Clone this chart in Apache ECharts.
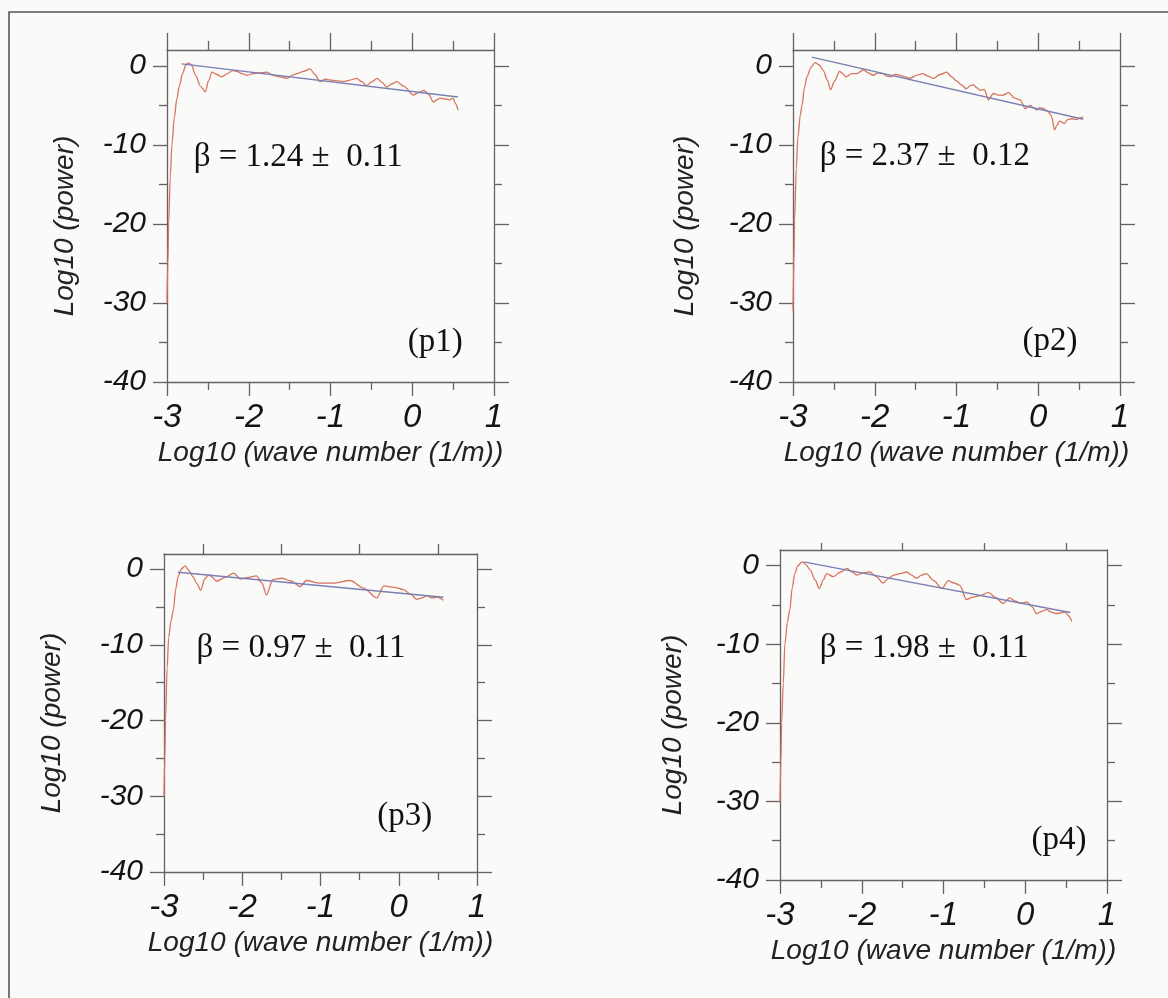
<!DOCTYPE html>
<html>
<head>
<meta charset="utf-8">
<script src="https://cdn.jsdelivr.net/npm/echarts@6/dist/echarts.min.js"></script>
<style>
  html, body { margin: 0; padding: 0; background: #fafaf8; }
  #chart { width: 1168px; height: 998px; }
</style>
</head>
<body>
<div id="chart"></div>
<script>
// Power spectra (log10 power vs log10 wave number) for four profiles, with power-law fits.
const panelIds = ['p1', 'p2', 'p3', 'p4'];

const p1Spectrum = [
  [-3.00,-30],[-2.99,-25],[-2.98,-20],[-2.96,-14],[-2.94,-10],[-2.91,-6.5],[-2.88,-4.2],[-2.85,-2.6],
  [-2.81,-1.0],[-2.77,0.1],[-2.74,0.35],[-2.70,0.1],[-2.65,-1.2],[-2.59,-2.6],[-2.53,-3.3],[-2.49,-1.8],
  [-2.45,-0.8],[-2.39,-1.1],[-2.33,-1.4],[-2.26,-1.0],[-2.20,-0.6],[-2.15,-0.7],[-2.08,-1.0],[-2.02,-1.2],
  [-1.95,-1.0],[-1.88,-0.9],[-1.78,-0.8],[-1.70,-1.2],[-1.62,-1.4],[-1.53,-1.6],[-1.47,-1.2],[-1.41,-1.0],
  [-1.33,-0.7],[-1.25,-0.4],[-1.19,-1.1],[-1.13,-2.0],[-1.06,-1.7],[-1.00,-1.8],[-0.92,-1.9],[-0.84,-2.0],
  [-0.76,-1.8],[-0.68,-1.6],[-0.62,-2.0],[-0.56,-2.5],[-0.49,-2.0],[-0.43,-1.6],[-0.37,-2.1],[-0.31,-2.7],
  [-0.25,-2.3],[-0.19,-2.0],[-0.10,-2.6],[0.01,-3.7],[0.08,-3.4],[0.14,-3.1],[0.20,-3.6],[0.26,-4.6],
  [0.30,-4.3],[0.34,-4.1],[0.40,-4.2],[0.46,-4.3],[0.50,-4.1],[0.53,-4.8],[0.56,-5.6]
];

const p2Spectrum = [
  [-3.00,-31],[-2.99,-25],[-2.98,-19.5],[-2.96,-13],[-2.94,-9],[-2.91,-6.2],[-2.89,-5.0],[-2.86,-2.8],
  [-2.83,-1.4],[-2.78,-0.2],[-2.73,0.4],[-2.68,0.1],[-2.63,-0.6],[-2.58,-1.8],[-2.54,-3.0],[-2.49,-1.9],
  [-2.43,-0.7],[-2.39,-1.0],[-2.35,-1.4],[-2.28,-1.0],[-2.22,-1.0],[-2.14,-0.5],[-2.08,-0.9],[-2.02,-1.2],
  [-1.96,-0.9],[-1.90,-1.0],[-1.85,-1.3],[-1.81,-1.4],[-1.75,-1.1],[-1.69,-1.2],[-1.63,-1.4],[-1.57,-1.6],
  [-1.49,-1.2],[-1.41,-1.0],[-1.35,-1.3],[-1.28,-1.6],[-1.20,-1.1],[-1.12,-0.8],[-1.06,-1.4],[-1.00,-1.9],
  [-0.94,-2.4],[-0.88,-2.9],[-0.83,-2.5],[-0.79,-2.4],[-0.75,-2.8],[-0.71,-3.1],[-0.66,-3.0],[-0.61,-4.3],
  [-0.55,-3.5],[-0.49,-3.7],[-0.43,-3.7],[-0.36,-3.4],[-0.29,-4.1],[-0.22,-4.3],[-0.16,-5.4],[-0.10,-5.0],
  [-0.06,-5.3],[-0.02,-5.6],[0.02,-5.3],[0.06,-5.4],[0.12,-5.8],[0.16,-6.3],[0.20,-8.1],[0.23,-7.5],
  [0.26,-7.0],[0.32,-7.3],[0.36,-6.8],[0.41,-6.7],[0.47,-6.8],[0.51,-6.6],[0.55,-6.5]
];

const p3Spectrum = [
  [-3.00,-30],[-2.99,-25],[-2.98,-20],[-2.96,-13],[-2.94,-9],[-2.91,-6.8],[-2.88,-5.4],[-2.85,-2.6],
  [-2.82,-1.0],[-2.78,0.0],[-2.73,0.44],[-2.68,-0.2],[-2.63,-1.0],[-2.58,-1.9],[-2.53,-2.8],[-2.48,-1.3],
  [-2.43,-0.75],[-2.38,-1.1],[-2.33,-1.6],[-2.22,-1.1],[-2.11,-0.53],[-2.02,-1.3],[-1.92,-1.1],[-1.82,-0.89],
  [-1.75,-1.8],[-1.69,-3.4],[-1.61,-1.4],[-1.49,-1.2],[-1.37,-1.6],[-1.26,-2.3],[-1.18,-1.5],[-1.01,-1.85],
  [-0.84,-1.85],[-0.62,-1.5],[-0.45,-2.5],[-0.28,-3.8],[-0.19,-2.2],[-0.06,-2.4],[0.06,-2.7],[0.15,-3.3],
  [0.23,-4.0],[0.30,-3.8],[0.36,-3.5],[0.42,-3.8],[0.49,-3.7],[0.57,-4.1]
];

const p4Spectrum = [
  [-3.00,-30],[-2.99,-25],[-2.98,-20],[-2.96,-15],[-2.94,-10],[-2.91,-7.2],[-2.88,-5.6],[-2.85,-2.8],
  [-2.82,-1.0],[-2.78,0.0],[-2.73,0.5],[-2.68,0.1],[-2.63,-0.55],[-2.57,-1.8],[-2.52,-2.9],[-2.47,-1.8],
  [-2.43,-1.0],[-2.35,-1.4],[-2.26,-0.8],[-2.18,-0.33],[-2.12,-0.8],[-2.06,-1.2],[-1.98,-0.9],[-1.90,-0.8],
  [-1.82,-1.4],[-1.74,-2.2],[-1.67,-1.6],[-1.61,-1.2],[-1.53,-1.0],[-1.45,-0.8],[-1.39,-1.2],[-1.33,-1.6],
  [-1.27,-1.2],[-1.21,-1.0],[-1.12,-1.9],[-1.02,-2.9],[-0.94,-1.9],[-0.87,-2.2],[-0.80,-2.5],[-0.72,-4.3],
  [-0.64,-4.0],[-0.55,-3.8],[-0.45,-3.4],[-0.37,-4.0],[-0.27,-4.8],[-0.19,-4.1],[-0.12,-4.5],[-0.06,-4.8],
  [0.02,-4.6],[0.08,-5.2],[0.14,-6.1],[0.20,-5.8],[0.26,-5.6],[0.32,-5.9],[0.38,-6.1],[0.44,-6.0],
  [0.49,-5.9],[0.53,-6.4],[0.57,-7.1]
];

const spectra = [p1Spectrum, p2Spectrum, p3Spectrum, p4Spectrum];

// Power-law fit: log10(power) = intercept - beta * log10(k)
const fitBeta = [1.24, 2.37, 0.97, 1.98];
const fitError = [0.11, 0.12, 0.11, 0.11];
const fitIntercept = [-3.25, -5.46, -3.15, -4.87];
const fitRange = [[-2.82, 0.56], [-2.77, 0.55], [-2.82, 0.57], [-2.71, 0.55]];

// Axis ticks
const xTickValues = [-3, -2, -1, 0, 1];
const xHalfTicks = [-2.5, -1.5, -0.5, 0.5];
const yMajorTicks = [-40, -30, -20, -10, 0];
const yMinorTicks = [-35, -25, -15, -5];

// Text anchors in data units (left edge, vertical middle)
const betaLabelAt = [[-2.68, -11.6], [-2.68, -11.5], [-2.59, -10.4], [-2.52, -10.5]];
const tagLabelAt = [[-0.06, -35.0], [-0.20, -34.9], [-0.28, -32.7], [0.07, -35.0]];

const xTitle = 'Log10 (wave number (1/m))';
const yTitle = 'Log10 (power)';

// Panel placement
const layout = [
  { left: 167, top: 50,  width: 327, height: 332, yGap: 88, topFull: true,  topLen: 17, topMinor: 9 },
  { left: 793, top: 50,  width: 327, height: 332, yGap: 94, topFull: true,  topLen: 17, topMinor: 9 },
  { left: 164, top: 554, width: 313, height: 318, yGap: 98, topFull: false, topLen: 10, topMinor: 0 },
  { left: 780, top: 550, width: 327, height: 330, yGap: 93, topFull: false, topLen: 7,  topMinor: 0 }
];

const AX = '#6a6262';
const AXW = 1.3;
const sans = '"Liberation Sans", Arial, Helvetica, sans-serif';
const serif = '"Liberation Serif", "Times New Roman", serif';
const RED = '#d8735e';
const BLUE = '#7a80b4';

const grid = [], xAxis = [], yAxis = [], series = [];

layout.forEach((L, i) => {
  grid.push({ left: L.left, top: L.top, width: L.width, height: L.height, containLabel: false });
  const line = { show: true, onZero: false, lineStyle: { color: AX, width: AXW } };

  // bottom x axis with labels
  xAxis.push({
    gridIndex: i, type: 'value', position: 'bottom', min: -3, max: 1, interval: 1,
    axisLine: line,
    axisTick: { show: true, inside: false, length: 14, lineStyle: { color: AX, width: AXW } },
    minorTick: { show: true, splitNumber: 2, length: 8, lineStyle: { color: AX, width: AXW } },
    splitLine: { show: false }, minorSplitLine: { show: false },
    axisLabel: {
      customValues: xTickValues, fontFamily: sans, fontStyle: 'italic', fontSize: 33,
      lineHeight: 33, color: '#141414', margin: 19
    },
    name: xTitle, nameLocation: 'middle', nameGap: 57,
    nameTextStyle: { fontFamily: sans, fontStyle: 'italic', fontSize: 28, lineHeight: 28, color: '#222' }
  });

  // top x axis, ticks only
  const topAxis = {
    gridIndex: i, type: 'value', position: 'top', min: -3, max: 1, interval: 1,
    axisLine: line,
    axisLabel: { show: false },
    splitLine: { show: false }, minorSplitLine: { show: false }
  };
  if (L.topFull) {
    topAxis.axisTick = { show: true, length: L.topLen, lineStyle: { color: AX, width: AXW } };
    topAxis.minorTick = { show: true, splitNumber: 2, length: L.topMinor, lineStyle: { color: AX, width: AXW } };
  } else {
    topAxis.axisTick = { show: true, customValues: xHalfTicks, length: L.topLen, lineStyle: { color: AX, width: AXW } };
  }
  xAxis.push(topAxis);

  const yBase = { gridIndex: i, type: 'value', min: -40, max: 2, splitLine: { show: false } };
  // left: major ticks with labels
  yAxis.push(Object.assign({}, yBase, {
    position: 'left',
    axisLine: line,
    axisTick: { show: true, customValues: yMajorTicks, length: 14, lineStyle: { color: AX, width: AXW } },
    axisLabel: {
      customValues: yMajorTicks, fontFamily: sans, fontStyle: 'italic', fontSize: 30,
      color: '#141414', margin: 21
    },
    name: yTitle, nameLocation: 'middle', nameGap: L.yGap, nameRotate: 90,
    nameTextStyle: {
      fontFamily: sans, fontStyle: 'italic', fontSize: 28, lineHeight: 28, color: '#222',
      padding: [0, 20, 0, 0]
    }
  }));
  // left: minor ticks
  yAxis.push(Object.assign({}, yBase, {
    position: 'left',
    axisLine: { show: false, onZero: false },
    axisTick: { show: true, customValues: yMinorTicks, length: 8, lineStyle: { color: AX, width: AXW } },
    axisLabel: { show: false }
  }));
  // right: major ticks
  yAxis.push(Object.assign({}, yBase, {
    position: 'right',
    axisLine: line,
    axisTick: { show: true, customValues: yMajorTicks, length: 15, lineStyle: { color: AX, width: AXW } },
    axisLabel: { show: false }
  }));
  // right: minor ticks
  yAxis.push(Object.assign({}, yBase, {
    position: 'right',
    axisLine: { show: false, onZero: false },
    axisTick: { show: true, customValues: yMinorTicks, length: 8, lineStyle: { color: AX, width: AXW } },
    axisLabel: { show: false }
  }));

  const xi = 2 * i, yi = 4 * i;

  series.push({
    type: 'line', name: 'spectrum ' + panelIds[i], xAxisIndex: xi, yAxisIndex: yi,
    data: spectra[i], showSymbol: false, smooth: 0.3, smoothMonotone: 'x',
    lineStyle: { color: RED, width: 1.3 }, silent: true, z: 3
  });

  const b = fitBeta[i], a = fitIntercept[i];
  series.push({
    type: 'line', name: 'fit ' + panelIds[i], xAxisIndex: xi, yAxisIndex: yi,
    data: fitRange[i].map(x => [x, a - b * x]), showSymbol: false,
    lineStyle: { color: BLUE, width: 1.4 }, silent: true, z: 4
  });

  series.push({
    type: 'scatter', name: 'labels ' + panelIds[i], xAxisIndex: xi, yAxisIndex: yi,
    symbolSize: 1, itemStyle: { color: 'rgba(0,0,0,0)', opacity: 1 }, silent: true, z: 5,
    label: { show: true, position: 'right', distance: 0, fontFamily: serif, fontSize: 33, color: '#111' },
    data: [
      { value: betaLabelAt[i], label: { formatter: 'β = ' + b.toFixed(2) + ' \u00b1  ' + fitError[i].toFixed(2) } },
      { value: tagLabelAt[i], label: { formatter: '(' + panelIds[i] + ')' } }
    ]
  });
});

const chart = echarts.init(document.getElementById('chart'), null, { renderer: 'canvas' });
chart.setOption({
  backgroundColor: '#fafaf8',
  animation: false,
  grid, xAxis, yAxis, series,
  graphic: [{
    type: 'rect', silent: true, z: -10,
    shape: { x: 9, y: 12, width: 1200, height: 1050 },
    style: { fill: 'none', stroke: '#555', lineWidth: 1.6 }
  }]
});
</script>
</body>
</html>
